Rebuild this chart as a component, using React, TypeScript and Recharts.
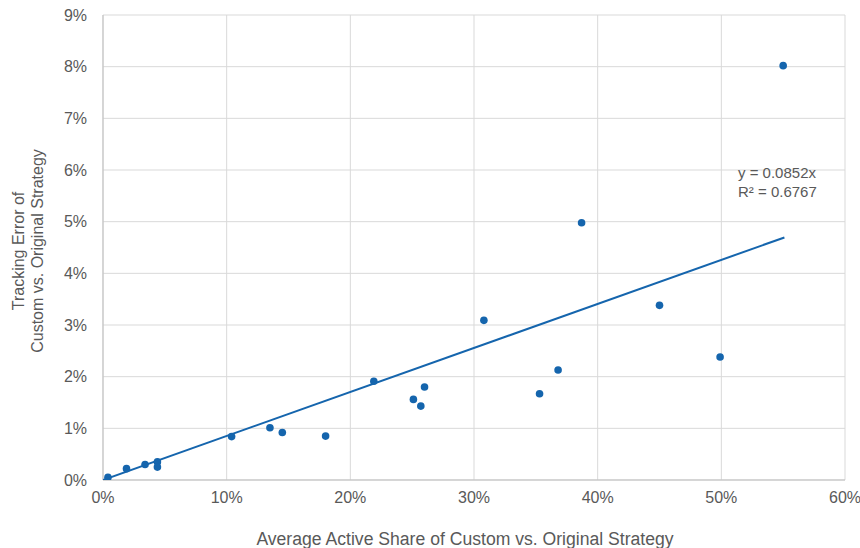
import React from "react";
import {
  ScatterChart,
  Scatter,
  XAxis,
  YAxis,
  CartesianGrid,
  Label,
} from "recharts";

// Average active share (%) and tracking error (%)
const activeShare = [0.4, 1.9, 3.4, 4.4, 4.4, 10.4, 13.5, 14.5, 18.0, 21.9, 25.1, 25.7, 26.0, 30.8, 35.3, 36.8, 38.7, 45.0, 49.9, 55.0];
const trackingError = [0.05, 0.22, 0.30, 0.35, 0.25, 0.84, 1.01, 0.92, 0.85, 1.91, 1.56, 1.43, 1.80, 3.09, 1.67, 2.13, 4.98, 3.38, 2.38, 8.02];

const xTicks = [0, 10, 20, 30, 40, 50, 60];
const yTicks = [0, 1, 2, 3, 4, 5, 6, 7, 8, 9];

const trendSlope = 0.0852;
const trendR2 = 0.6767;
const trendXs = [0, 55.1];

const points = activeShare.map((x, i) => ({ x, y: trackingError[i] }));
const trend = trendXs.map((x) => ({ x, y: trendSlope * x }));

const BLUE = "#1565ad";
const TEXT = "#595959";
const FONT = "'Liberation Sans', Arial, sans-serif";

const YLabel = () => {
  const cy = 251;
  const cx = 28;
  return (
    <text
      x={cx}
      y={cy}
      transform={`rotate(-90, ${cx}, ${cy})`}
      textAnchor="middle"
      fill={TEXT}
      fontSize={16}
      fontFamily={FONT}
    >
      <tspan x={cx} dy={-4}>Tracking Error of</tspan>
      <tspan x={cx} dy={19}>Custom vs. Original Strategy</tspan>
    </text>
  );
};

export default function App() {
  return (
    <div style={{ position: "absolute", left: 0, top: 0, width: 860, height: 548, background: "#fff" }}>
      <ScatterChart
        width={860}
        height={548}
        margin={{ top: 15, right: 15, bottom: 0, left: 0 }}
        style={{ fontFamily: FONT }}
      >
        <CartesianGrid stroke="#d9d9d9" strokeWidth={1} />
        <XAxis
          type="number"
          dataKey="x"
          height={68}
          domain={[0, 60]}
          ticks={xTicks}
          tickFormatter={(v: number) => `${v}%`}
          tick={{ fill: TEXT, fontSize: 16, fontFamily: FONT }}
          tickLine={false}
          tickSize={0}
          tickMargin={12}
          axisLine={{ stroke: "#bfbfbf" }}
          allowDataOverflow
        >
          <Label
            value="Average Active Share of Custom vs. Original Strategy"
            position="insideBottom"
            offset={3}
            dx={-9}
            fill={TEXT}
            fontSize={17.6}
            fontFamily={FONT}
          />
        </XAxis>
        <YAxis
          type="number"
          dataKey="y"
          width={103}
          domain={[0, 9]}
          ticks={yTicks}
          tickFormatter={(v: number) => `${v}%`}
          tick={{ fill: TEXT, fontSize: 16, fontFamily: FONT }}
          tickLine={false}
          tickSize={0}
          tickMargin={16}
          axisLine={{ stroke: "#bfbfbf" }}
          allowDataOverflow
        >
          <Label content={<YLabel />} />
        </YAxis>
        <Scatter
          data={trend}
          line={{ stroke: BLUE, strokeWidth: 2 }}
          shape={() => null}
          isAnimationActive={false}
          legendType="none"
        />
        <Scatter
          data={points}
          fill={BLUE}
          shape={(p: any) => <circle cx={p.cx} cy={p.cy} r={3.8} fill={BLUE} />}
          isAnimationActive={false}
        />
        <text x={738} y={178} fill={TEXT} fontSize={15} fontFamily={FONT}>
          {`y = ${trendSlope}x`}
        </text>
        <text x={738} y={197} fill={TEXT} fontSize={15} fontFamily={FONT}>
          {`R² = ${trendR2}`}
        </text>
      </ScatterChart>
    </div>
  );
}
